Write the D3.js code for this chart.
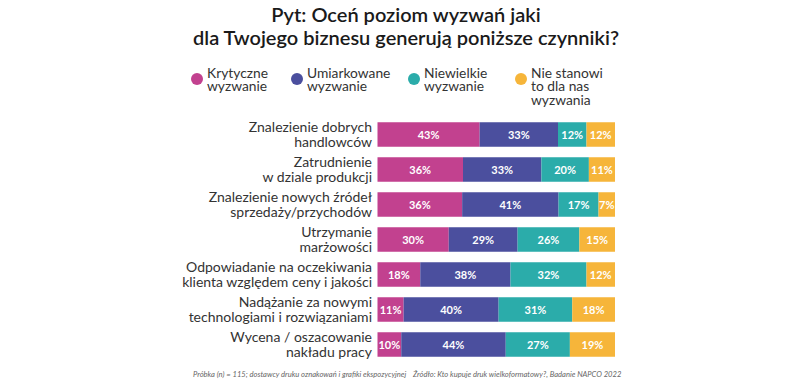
<!DOCTYPE html>
<html lang="pl">
<head>
<meta charset="UTF-8">
<title>Pyt: Oceń poziom wyzwań</title>
<script src="https://cdnjs.cloudflare.com/ajax/libs/d3/7.8.5/d3.min.js"></script>
<style>
  body { margin: 0; background: #fff; }
  svg { display: block; font-family: "Lato", "Open Sans", sans-serif; }
  .title { font-size: 20px; font-weight: 600; fill: #1a1a1a; text-anchor: middle; }
  .rowlabel { font-size: 14px; fill: #333; text-anchor: end; }
  .legend text { font-size: 13.8px; fill: #333; }
  .pct { font-size: 11px; font-weight: 700; fill: #fff; text-anchor: middle; }
  .note { font-size: 7.6px; font-style: italic; fill: #666; }
</style>
</head>
<body>
<div id="chart"></div>
<script>
const width = 800, height = 391;

const categories = [
  ["Znalezienie dobrych", "handlowców"],
  ["Zatrudnienie", "w dziale produkcji"],
  ["Znalezienie nowych źródeł", "sprzedaży/przychodów"],
  ["Utrzymanie", "marżowości"],
  ["Odpowiadanie na oczekiwania", "klienta względem ceny i jakości"],
  ["Nadążanie za nowymi", "technologiami i rozwiązaniami"],
  ["Wycena / oszacowanie", "nakładu pracy"]
];
const seriesNames = [
  ["Krytyczne", "wyzwanie"],
  ["Umiarkowane", "wyzwanie"],
  ["Niewielkie", "wyzwanie"],
  ["Nie stanowi", "to dla nas", "wyzwania"]
];
const krytyczne   = [43, 36, 36, 30, 18, 11, 10];
const umiarkowane = [33, 33, 41, 29, 38, 40, 44];
const niewielkie  = [12, 20, 17, 26, 32, 31, 27];
const nieStanowi  = [12, 11, 7, 15, 12, 18, 19];
const colors = ["#c2418f", "#4b4f9e", "#2bacaa", "#f6b53a"];

const series = [krytyczne, umiarkowane, niewielkie, nieStanowi];

const svg = d3.select("#chart").append("svg")
  .attr("width", width).attr("height", height);

// title
const title = svg.append("text").attr("class", "title");
title.append("tspan").attr("x", 406).attr("y", 22).text("Pyt: Oceń poziom wyzwań jaki");
title.append("tspan").attr("x", 406).attr("y", 45).text("dla Twojego biznesu generują poniższe czynniki?");

// legend
const legendX = [197, 297, 414, 521];
const legend = svg.append("g").attr("class", "legend");
seriesNames.forEach((name, i) => {
  const g = legend.append("g").attr("transform", `translate(${legendX[i]},79)`);
  g.append("circle").attr("r", 6).attr("fill", colors[i]);
  const t = g.append("text");
  name.forEach((line, j) => {
    t.append("tspan").attr("x", 10).attr("y", -1.5 + j * 13.6).text(line);
  });
});

// bars
const x = d3.scaleLinear().domain([0, 1]).range([377.5, 615]);
const y = d3.scaleBand().domain(d3.range(categories.length))
  .range([117, 362]).paddingInner(0.3).paddingOuter(0.15);

const rows = categories.map((c, i) => {
  const vals = series.map(s => s[i]);
  const total = d3.sum(vals);
  let acc = 0;
  return vals.map((v, k) => {
    const seg = { row: i, k, v, x0: acc / total, x1: (acc + v) / total };
    acc += v;
    return seg;
  });
});

const rowG = svg.selectAll("g.row").data(rows).enter().append("g")
  .attr("class", "row")
  .attr("transform", (d, i) => `translate(0,${y(i)})`);

rowG.selectAll("rect").data(d => d).enter().append("rect")
  .attr("x", d => x(d.x0))
  .attr("width", d => x(d.x1) - x(d.x0))
  .attr("height", y.bandwidth())
  .attr("fill", d => colors[d.k]);

rowG.selectAll("text.pct").data(d => d).enter().append("text")
  .attr("class", "pct")
  .attr("x", d => (x(d.x0) + x(d.x1)) / 2)
  .attr("y", y.bandwidth() / 2 + 4)
  .text(d => d.v + "%");

rowG.each(function (d, i) {
  const t = d3.select(this).append("text").attr("class", "rowlabel");
  categories[i].forEach((line, j) => {
    t.append("tspan")
      .attr("x", 372)
      .attr("y", y.bandwidth() / 2 - 2.5 + j * 14.5)
      .text(line);
  });
});

// footnotes
svg.append("text").attr("class", "note").attr("x", 193).attr("y", 377)
  .text("Próbka (n) = 115; dostawcy druku oznakowań i grafiki ekspozycyjnej");
svg.append("text").attr("class", "note").attr("x", 413).attr("y", 377)
  .text("Źródło: Kto kupuje druk wielkoformatowy?, Badanie NAPCO 2022");
</script>
</body>
</html>
